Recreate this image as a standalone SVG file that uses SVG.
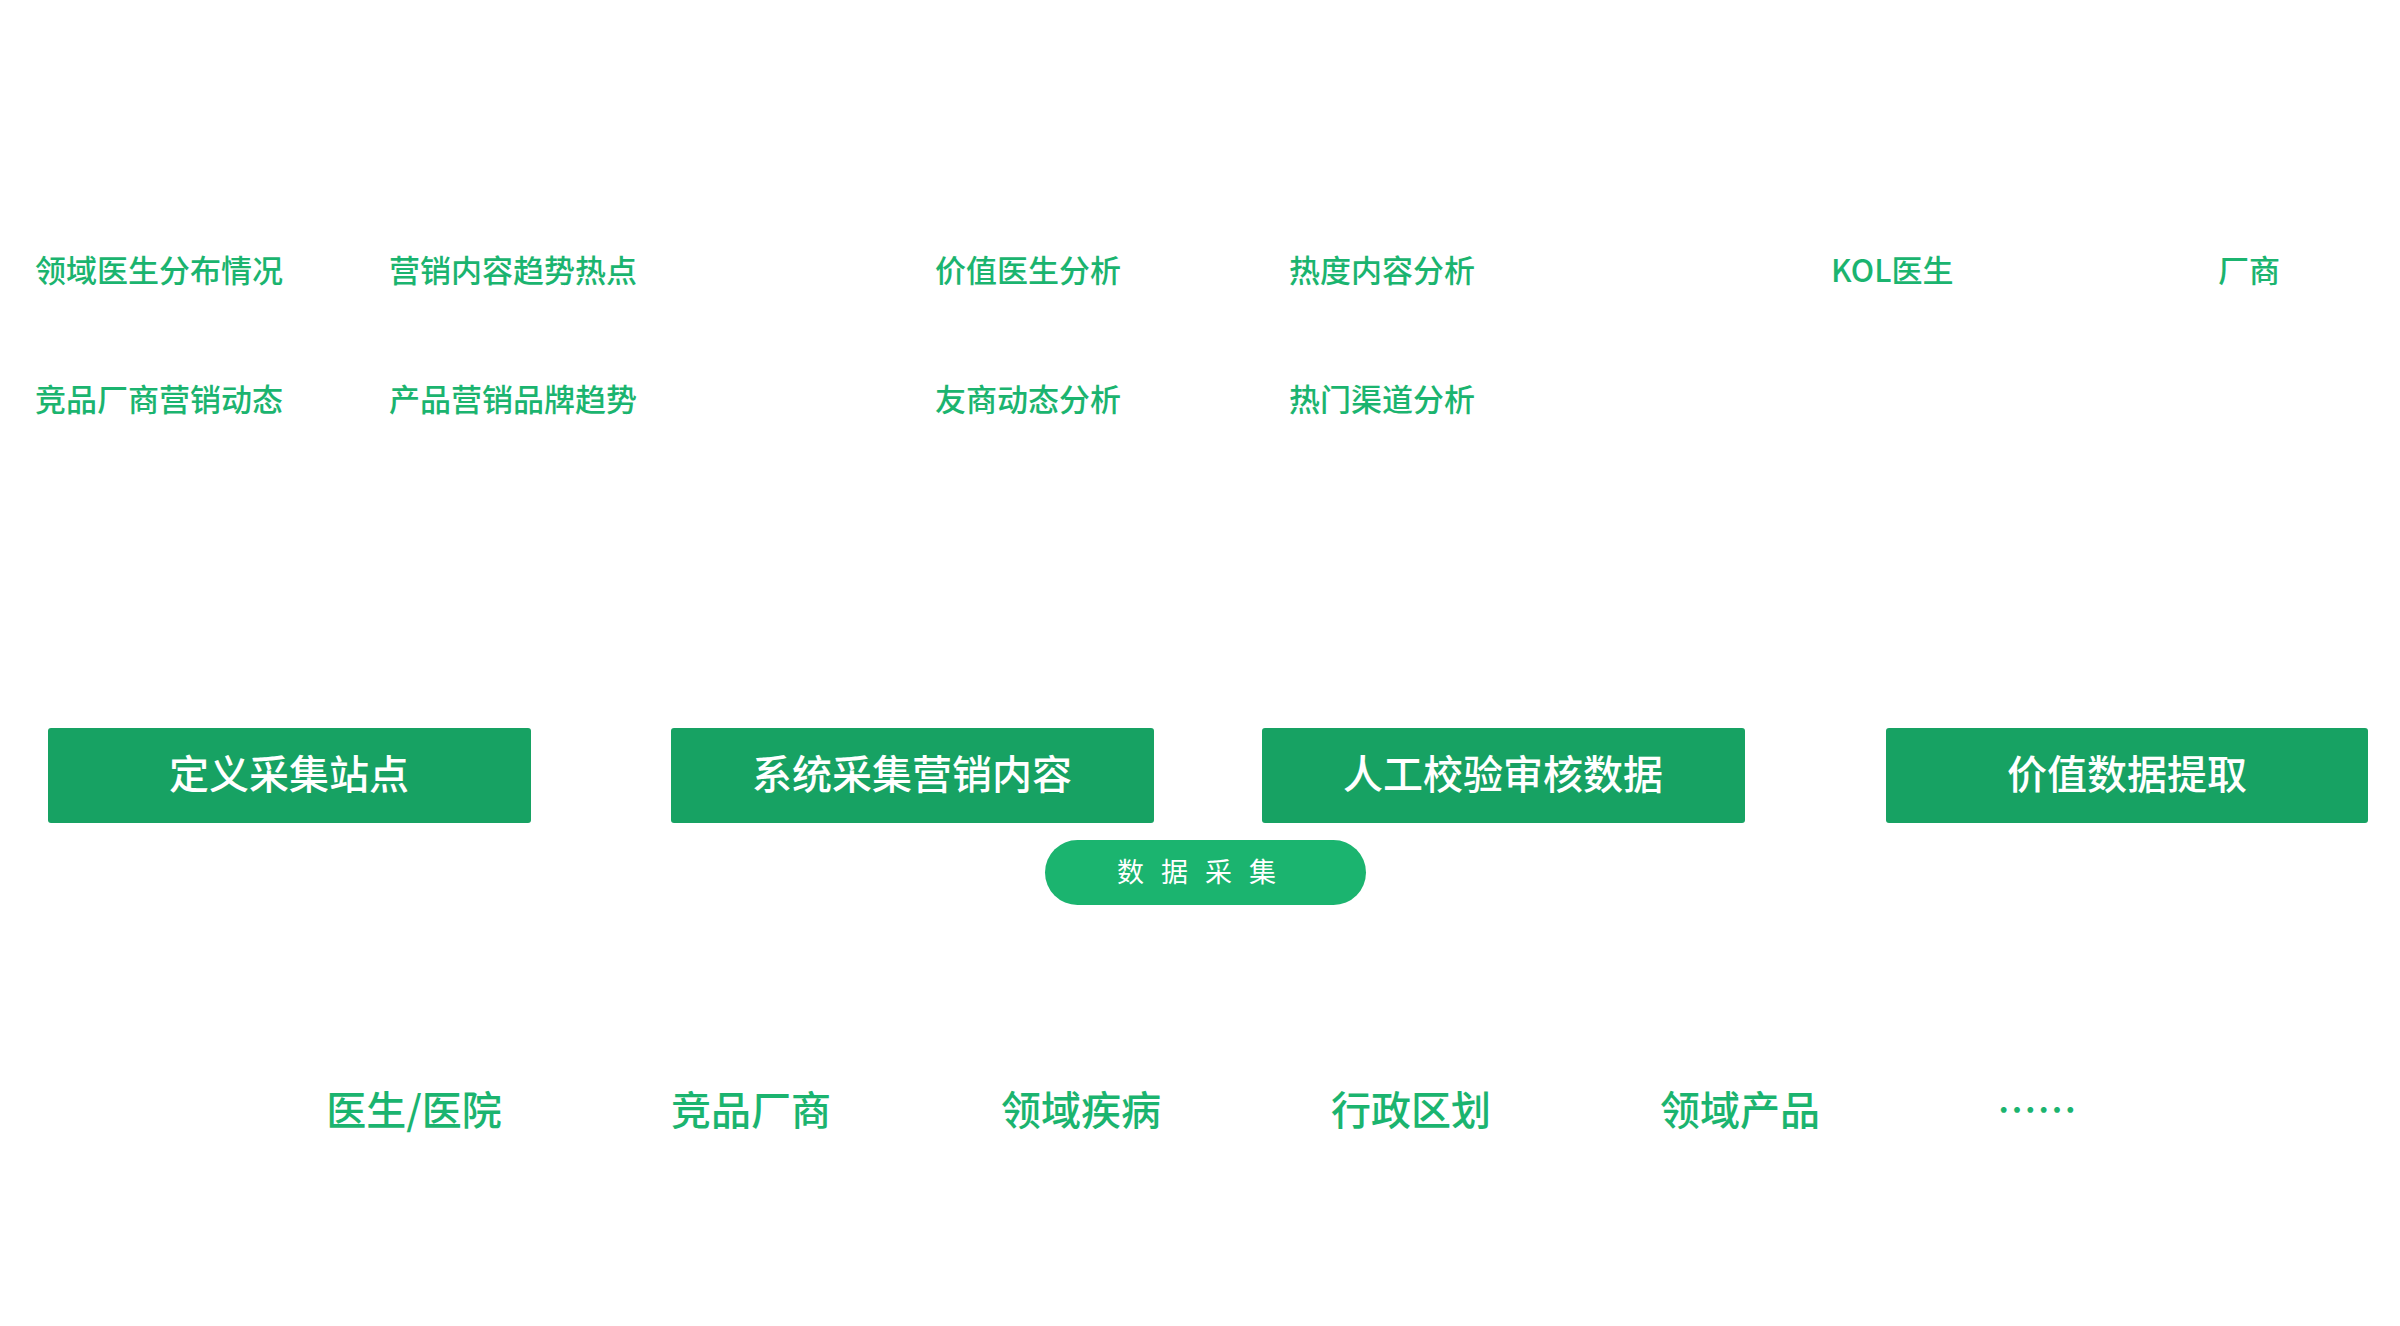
<svg xmlns="http://www.w3.org/2000/svg" width="2400" height="1326" viewBox="0 0 2400 1326">
<style>
.t{font-family:"Noto Sans CJK SC","Liberation Sans",sans-serif;fill:#1bb46f;font-size:31px;font-weight:500}
.b{fill:#17a263}
.bt{font-family:"Noto Sans CJK SC",sans-serif;fill:#fff;font-size:40px;font-weight:500;text-anchor:middle}
.bot{font-family:"Noto Sans CJK SC",sans-serif;fill:#1bb46f;font-size:40px;font-weight:500;text-anchor:middle}
</style>
<rect width="2400" height="1326" fill="#fff"/>
<g id="top-labels">
<text class="t" x="35" y="282">领域医生分布情况</text>
<text class="t" x="389" y="282">营销内容趋势热点</text>
<text class="t" x="935" y="282">价值医生分析</text>
<text class="t" x="1289" y="282">热度内容分析</text>
<text class="t" x="1831" y="282">KOL医生</text>
<text class="t" x="2218" y="282">厂商</text>
<text class="t" x="35" y="411">竞品厂商营销动态</text>
<text class="t" x="389" y="411">产品营销品牌趋势</text>
<text class="t" x="935" y="411">友商动态分析</text>
<text class="t" x="1289" y="411">热门渠道分析</text>
</g>
<g id="n1"><rect class="b" x="48" y="728" width="483" height="95" rx="3"/><text class="bt" x="289" y="789">定义采集站点</text></g>
<g id="n2"><rect class="b" x="671" y="728" width="483" height="95" rx="3"/><text class="bt" x="912" y="789">系统采集营销内容</text></g>
<g id="n3"><rect class="b" x="1262" y="728" width="483" height="95" rx="3"/><text class="bt" x="1503" y="789">人工校验审核数据</text></g>
<g id="n4"><rect class="b" x="1886" y="728" width="482" height="95" rx="3"/><text class="bt" x="2127" y="789">价值数据提取</text></g>
<g id="pill"><rect x="1045" y="840" width="321" height="65" rx="32.5" fill="#1bb46f"/><text x="1205" y="882" font-family="Noto Sans CJK SC,sans-serif" font-size="27" fill="#fff" text-anchor="middle" letter-spacing="17">数据采集</text></g>
<g id="bottom">
<text class="bot" x="414" y="1125">医生/医院</text>
<text class="bot" x="751" y="1125">竞品厂商</text>
<text class="bot" x="1081" y="1125">领域疾病</text>
<text class="bot" x="1411" y="1125">行政区划</text>
<text class="bot" x="1740" y="1125">领域产品</text>
<text class="bot" x="2037" y="1125">……</text>
</g>
<g id="connectors"/>
</svg>
